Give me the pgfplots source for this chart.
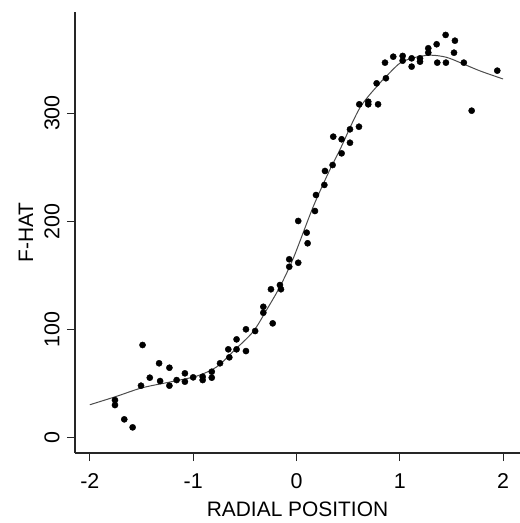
\documentclass[border=0pt]{standalone}
\usepackage{fontspec}
\setmainfont{Liberation Sans}
\usepackage{pgfplots}
\pgfplotsset{compat=1.18}
\begin{document}
\begin{tikzpicture}
\useasboundingbox (-75bp,-70bp) rectangle (445bp,453bp);
\begin{axis}[
  at={(0,0)}, anchor=south west,
  scale only axis, width=445bp, height=441bp,
  xmin=-2.144, xmax=2.164, ymin=-14.1, ymax=393.4,
  axis lines=left, axis line style={-, line width=1.1bp, black!85},
  tick align=outside, major tick length=8bp,
  tick style={line width=1.1bp, black!85},
  xtick={-2,-1,0,1,2}, ytick={0,100,200,300},
  /pgf/number format/assume math mode=true,
  ticklabel style={font=\fontsize{21.5}{25}\selectfont},
  yticklabel style={rotate=90, anchor=south},
  xticklabel shift=9bp, yticklabel shift=4bp,
  xlabel={RADIAL POSITION}, ylabel={F-HAT},
  label style={font=\fontsize{21}{25}\selectfont},
  xlabel style={at={(axis description cs:0.5,0)}, anchor=base, yshift=-63bp},
  ylabel style={at={(axis description cs:-0.094,0.5)}, anchor=base},
  clip=false,
]
\addplot[smooth, line width=1bp, black!70] coordinates {
(-2.0,30.5) (-1.75,38) (-1.5,46) (-1.25,51) (-1.0,56) (-0.87,60.5) (-0.75,67)
(-0.61,80) (-0.42,98) (-0.29,118) (-0.16,139.6) (-0.03,166) (0.16,213) (0.32,247)
(0.42,266) (0.615,305) (0.81,328) (0.87,334) (1.0,346) (1.13,351) (1.29,353.5)
(1.45,351.6) (1.615,345.4) (1.776,339) (2.0,331.5)
};
\addplot[only marks, mark=*, mark size=3.1pt, black] coordinates {
(-1.757,34.8) (-1.757,30.2) (-1.667,17) (-1.586,9.6) (-1.505,48.1) (-1.49,85.7)
(-1.42,55.5) (-1.33,68.8) (-1.32,52.4) (-1.23,64.7) (-1.23,48.1) (-1.16,53.3)
(-1.08,59.5) (-1.08,51.8) (-1.0,55.8) (-0.908,56.4) (-0.908,53.3) (-0.82,61)
(-0.82,55.5) (-0.74,68.8) (-0.66,81.7) (-0.65,74.3) (-0.58,90.9) (-0.58,81.7)
(-0.489,80.1) (-0.489,100.2) (-0.40,98.6) (-0.321,121) (-0.321,115.5) (-0.23,105.7)
(-0.247,137.2) (-0.16,141.1) (-0.15,137.2) (-0.07,164.9) (-0.07,158) (0.017,161.7)
(0.108,179.7) (0.099,189.5) (0.017,200.3) (0.179,209.5) (0.189,224.3) (0.27,233.6)
(0.276,246.5) (0.35,252) (0.437,262.8) (0.518,272.6) (0.437,275.8) (0.356,278.2)
(0.518,285) (0.605,287.4) (0.608,308.1) (0.695,308.1) (0.695,310.5) (0.79,308.1)
(0.776,327.5) (0.866,332.2) (0.857,346.6) (0.937,352.1) (1.028,352.8) (1.028,348.4)
(1.115,350.6) (1.115,342.9) (1.196,350.6) (1.196,347.5) (1.276,359.9) (1.276,355.8)
(1.357,363.6) (1.363,346.6) (1.447,346.6) (1.444,372.2) (1.534,366.9) (1.525,355.8)
(1.62,346.6) (1.696,302.2) (1.944,339.2)
};
\end{axis}
\end{tikzpicture}
\end{document}
